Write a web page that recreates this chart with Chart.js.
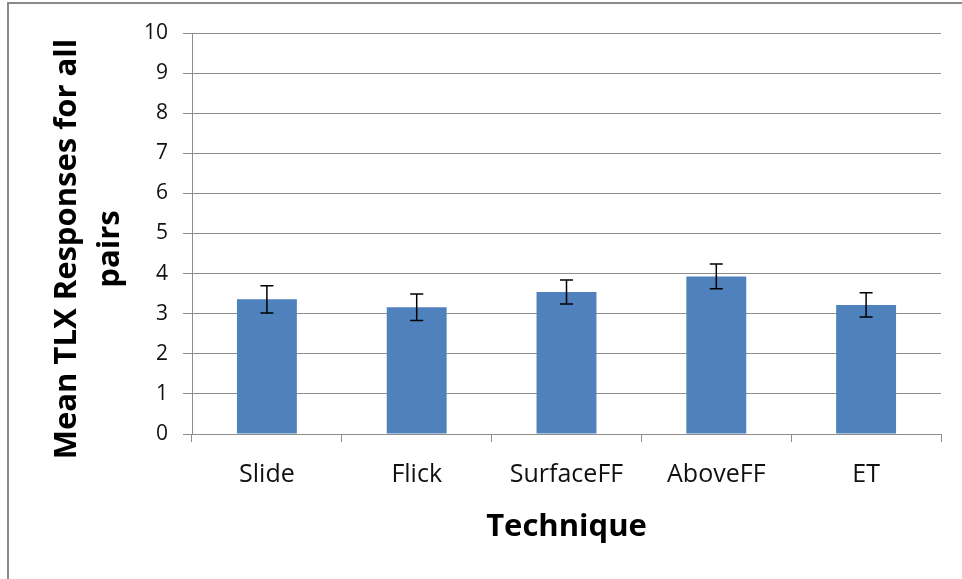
<!DOCTYPE html>
<html lang="en">
<head>
    <meta charset="UTF-8">
    <title>Mean TLX Responses by Technique</title>
    <script src="https://cdn.jsdelivr.net/npm/chart.js"></script>
    <style>
        html, body { margin: 0; padding: 0; background: #fff; }
        .chart-container { position: relative; width: 962px; height: 579px; }
    </style>
</head>
<body>
    <div class="chart-container">
        <canvas id="tlxChart"></canvas>
    </div>

    <script>
        // Mean TLX response per technique, with error bar half-widths
        const techniques = ['Slide', 'Flick', 'SurfaceFF', 'AboveFF', 'ET'];
        const meanTlx = [3.36, 3.16, 3.54, 3.93, 3.22];
        const errTlx = [0.34, 0.33, 0.30, 0.31, 0.30];
        const yTitleLines = ['Mean TLX Responses for all', 'pairs'];

        const gridGrey = '#8e8e8e';

        // Frame lines along the top and left edge
        const framePlugin = {
            id: 'frame',
            beforeDraw(chart) {
                const ctx = chart.ctx;
                ctx.save();
                ctx.strokeStyle = '#8a8a8a';
                ctx.lineWidth = 2;
                ctx.beginPath();
                ctx.moveTo(8, chart.height);
                ctx.lineTo(8, 3);
                ctx.lineTo(chart.width, 3);
                ctx.stroke();
                ctx.restore();
            }
        };

        // Error bars drawn through the chart's own scales
        const errorBarPlugin = {
            id: 'errorBars',
            afterDatasetsDraw(chart) {
                const ctx = chart.ctx;
                const x = chart.scales.x;
                const y = chart.scales.y;
                ctx.save();
                ctx.strokeStyle = '#000';
                ctx.lineWidth = 1.5;
                meanTlx.forEach((m, i) => {
                    const px = x.getPixelForValue(i);
                    const top = y.getPixelForValue(m + errTlx[i]);
                    const bot = y.getPixelForValue(m - errTlx[i]);
                    ctx.beginPath();
                    ctx.moveTo(px, top); ctx.lineTo(px, bot);
                    ctx.moveTo(px - 6.5, top); ctx.lineTo(px + 6.5, top);
                    ctx.moveTo(px - 6.5, bot); ctx.lineTo(px + 6.5, bot);
                    ctx.stroke();
                });
                ctx.restore();
            }
        };

        // Two-line rotated y-axis title
        const yTitlePlugin = {
            id: 'yTitle',
            afterDraw(chart) {
                const ctx = chart.ctx;
                ctx.save();
                ctx.font = 'bold 31px "Open Sans"';
                ctx.fillStyle = '#000';
                ctx.textAlign = 'center';
                ctx.textBaseline = 'middle';
                ctx.translate(0, 249);
                ctx.rotate(-Math.PI / 2);
                yTitleLines.forEach((line, i) => {
                    ctx.fillText(line, 0, 67 + i * 43);
                });
                ctx.restore();
            }
        };

        const ctxTlx = document.getElementById('tlxChart').getContext('2d');
        new Chart(ctxTlx, {
            type: 'bar',
            data: {
                labels: techniques,
                datasets: [{
                    data: meanTlx,
                    backgroundColor: '#4f81bd',
                    borderWidth: 0,
                    barPercentage: 0.4,
                    categoryPercentage: 1
                }]
            },
            options: {
                responsive: true,
                maintainAspectRatio: false,
                animation: false,
                layout: { padding: { left: 10, right: 21, top: 33, bottom: 0 } },
                plugins: {
                    legend: { display: false },
                    tooltip: { enabled: false }
                },
                scales: {
                    x: {
                        afterFit(scale) { scale.height = 145; },
                        grid: {
                            offset: true,
                            drawOnChartArea: false,
                            color: gridGrey,
                            tickLength: 8
                        },
                        border: { color: gridGrey },
                        ticks: {
                            color: '#111',
                            padding: 18,
                            font: { family: '"Open Sans"', size: 25 }
                        },
                        title: {
                            display: true,
                            text: 'Technique',
                            color: '#000',
                            font: { family: '"Open Sans"', size: 31, weight: 'bold' },
                            padding: { top: 0, bottom: 33 }
                        }
                    },
                    y: {
                        min: 0,
                        max: 10,
                        afterFit(scale) { scale.width = 182; },
                        grid: { color: gridGrey, tickLength: 9 },
                        border: { color: gridGrey },
                        ticks: {
                            stepSize: 1,
                            color: '#111',
                            padding: 15,
                            font: { family: '"Open Sans"', size: 21 }
                        }
                    }
                }
            },
            plugins: [framePlugin, errorBarPlugin, yTitlePlugin]
        });
    </script>
</body>
</html>
